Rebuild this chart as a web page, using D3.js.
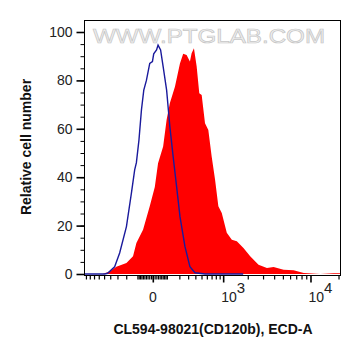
<!DOCTYPE html>
<html>
<head>
<meta charset="utf-8">
<script src="https://cdn.jsdelivr.net/npm/d3@7"></script>
<style>
  html, body { margin: 0; padding: 0; background: #fff; }
  svg { display: block; }
  text { font-family: "Liberation Sans", Arial, sans-serif; }
</style>
</head>
<body>
<svg id="chart" width="361" height="356"></svg>
<script>
// ---- data ----
const controlX = [-940, -491, -441, -337, -273, -198, -150, -122, -108, -88, -70, -54, -37, -17, -2, 5, 21, 30, 46, 63, 88, 113, 141, 173, 206, 261, 323, 394, 564, 1765];
const controlY = [0, 0, 0.3, 3, 8.7, 19.6, 33.5, 43, 46, 55.4, 67.8, 76, 80, 87, 87.8, 91, 92.6, 94.6, 92.6, 85.7, 76, 61, 48.5, 36, 23.8, 11.4, 3, 0.5, 0, 0];

const sampleX = [-527, -409, -314, -198, -136, -108, -59, -17, 11, 30, 63, 88, 113, 157, 206, 241, 281, 323, 346, 379, 420, 462, 503, 564, 630, 703, 781, 865, 959, 1112, 1286, 1481, 1779, 2135, 2664, 3321, 3942, 5093, 6565, 8441, 12806, 17680, 21000];
const sampleY = [0, 1, 3, 4.5, 7.3, 12.8, 18.3, 28, 36, 45.8, 52.7, 63.7, 70.6, 77.4, 87, 91, 90.5, 87.8, 91.2, 93.3, 85.7, 74.7, 74, 62.3, 59.5, 48.5, 39, 28, 25.2, 17, 14.2, 13.5, 10.7, 7.3, 3.8, 2.5, 2.9, 1.8, 1.5, 0.4, 0, 0.3, 0.3];

const yMajorTicks = [0, 20, 40, 60, 80, 100];
const yMinorTicks = d3.range(0, 101, 5);
const xMajorTicks = [0, 1000, 10000];
const xMajorLabels = [{base: "0", exp: ""}, {base: "10", exp: "3"}, {base: "10", exp: "4"}];
const xMinorTicks = [].concat(
  d3.range(-900, -99, 100),
  d3.range(-90, 91, 10),
  d3.range(200, 901, 100),
  d3.range(2000, 9001, 1000),
  [20000]
);

const xTitle = "CL594-98021(CD120b), ECD-A";
const yTitle = "Relative cell number";
const watermark = "WWW.PTGLAB.COM";

// ---- layout ----
const svg = d3.select("#chart");
const L = 84.5, R = 340.5, T = 20.5, B = 275.5;

const x = d3.scaleSymlog().constant(220).domain([-940, 21000]).range([L, R]);
const y = d3.scaleLinear().domain([0, 100]).range([274, 32]);

// watermark
svg.append("text")
  .attr("x", 93).attr("y", 43)
  .attr("textLength", 232).attr("lengthAdjust", "spacingAndGlyphs")
  .attr("font-size", 21)
  .attr("fill", "#efefef").attr("stroke", "#c6c6c6").attr("stroke-width", 0.7)
  .text(watermark);

const clip = svg.append("clipPath").attr("id", "plotclip")
  .append("rect").attr("x", L).attr("y", T).attr("width", R - L).attr("height", B - T);

const g = svg.append("g").attr("clip-path", "url(#plotclip)");

const sample = sampleX.map((v, i) => [v, sampleY[i]]);
const control = controlX.map((v, i) => [v, controlY[i]]);

g.append("path")
  .datum(sample)
  .attr("fill", "#ff0000")
  .attr("stroke", "none")
  .attr("d", d3.area().x(d => x(d[0])).y0(y(0)).y1(d => y(d[1])));

g.append("path")
  .datum(control)
  .attr("fill", "none")
  .attr("stroke", "#1a1a9c")
  .attr("stroke-width", 1.4)
  .attr("d", d3.line().x(d => x(d[0])).y(d => y(d[1])));

// frame
svg.append("rect")
  .attr("x", L).attr("y", T).attr("width", R - L).attr("height", B - T)
  .attr("fill", "none").attr("stroke", "#000").attr("stroke-width", 1);

// y axis
const yMinorAxis = d3.axisLeft(y).tickValues(yMinorTicks).tickSize(4).tickFormat("");
svg.append("g").attr("transform", `translate(${L},0)`).call(yMinorAxis)
  .call(s => s.select(".domain").remove());
const yAxis = d3.axisLeft(y).tickValues(yMajorTicks).tickSize(8).tickPadding(4);
svg.append("g").attr("transform", `translate(${L},0)`).call(yAxis)
  .call(s => s.select(".domain").remove())
  .call(s => s.selectAll("line").attr("stroke-width", 1.6))
  .call(s => s.selectAll("text").attr("font-size", 14).attr("fill", "#222")
    .attr("font-family", "'Liberation Sans', Arial, sans-serif"));

// x axis
const xMinorAxis = d3.axisBottom(x).tickValues(xMinorTicks).tickSize(4).tickFormat("");
svg.append("g").attr("transform", `translate(0,${B})`).call(xMinorAxis)
  .call(s => s.select(".domain").remove())
  .call(s => s.selectAll("line").attr("stroke-width", 1.2));
const xAxis = d3.axisBottom(x).tickValues(xMajorTicks).tickSize(7).tickFormat("");
svg.append("g").attr("transform", `translate(0,${B})`).call(xAxis)
  .call(s => s.select(".domain").remove())
  .call(s => s.selectAll("line").attr("stroke-width", 1.6));

// x tick labels with superscripts
const lab = svg.append("g");
xMajorTicks.forEach((v, i) => {
  const t = lab.append("text")
    .attr("y", 302)
    .attr("font-size", 14)
    .attr("fill", "#222");
  if (xMajorLabels[i].exp === "") {
    t.attr("x", x(v)).attr("text-anchor", "middle").text(xMajorLabels[i].base);
  } else {
    t.attr("x", x(v) - 2).attr("text-anchor", "start");
    t.append("tspan").text(xMajorLabels[i].base);
    t.append("tspan").attr("dy", -9).attr("font-size", 15).text(xMajorLabels[i].exp);
  }
});

// titles
svg.append("text")
  .attr("x", 213).attr("y", 334)
  .attr("text-anchor", "middle")
  .attr("font-size", 14).attr("font-weight", "bold").attr("fill", "#111")
  .text(xTitle);

svg.append("text")
  .attr("transform", "translate(31,147) rotate(-90)")
  .attr("text-anchor", "middle")
  .attr("font-size", 14).attr("font-weight", "bold").attr("fill", "#111")
  .text(yTitle);
</script>
</body>
</html>
